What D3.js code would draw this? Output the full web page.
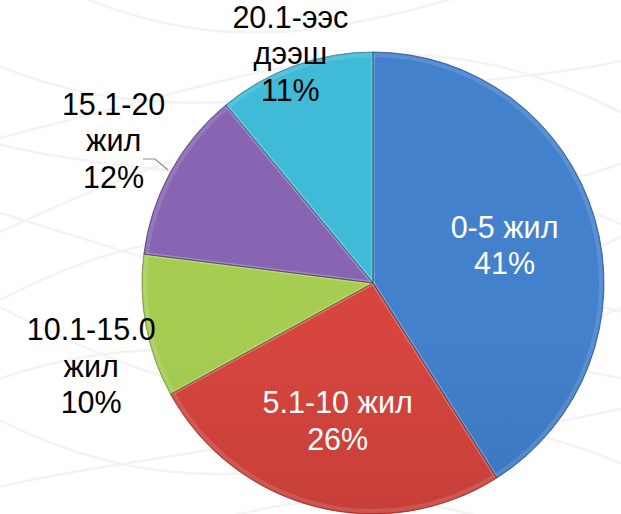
<!DOCTYPE html>
<html>
<head>
<meta charset="utf-8">
<script src="https://cdn.jsdelivr.net/npm/d3@7"></script>
<style>
  body { margin: 0; background: #fff; }
  svg { display: block; }
</style>
</head>
<body>
<div id="chart"></div>
<script>
var categories = ["0-5 жил", "5.1-10 жил", "10.1-15.0 жил", "15.1-20 жил", "20.1-ээс дээш"];
var values = [41, 26, 10, 12, 11];
var labelLines = [["0-5 жил", "41%"], ["5.1-10 жил", "26%"], ["10.1-15.0", "жил", "10%"], ["15.1-20", "жил", "12%"], ["20.1-ээс", "дээш", "11%"]];

var colorsTop = ["#4481CC", "#D6463F", "#A6CD52", "#8765B2", "#3FBBD8"];
var colorsBot = ["#2F64A8", "#AF332F", "#8AAF3D", "#6B4B93", "#2C9AB7"];
// label placement: radius and nudge
var labelRadius = [137, 142, 293, 296, 244];
var labelNudge = [[0, 0], [0, 0], [6, 28], [0, 0], [0, 0]];
var labelColor = ["#fff", "#fff", "#000", "#000", "#000"];

var width = 621,
    height = 514,
    cx = 373,
    cy = 283,
    radius = 231;

var svg = d3.select("#chart")
    .append("svg")
    .attr("width", width)
    .attr("height", height);

var defs = svg.append("defs");

/* faint wavy background */
var bg = svg.append("g").attr("fill", "none").attr("stroke", "#f3f3f3").attr("stroke-width", 2.5);
for (var i = 0; i < 12; i++) {
    var pts = d3.range(0, 641, 20).map(function(x) {
        return [x, 20 + i * 45 + 18 * Math.sin(x / 120 + i * 0.7) + 0.0006 * (x - 320) * (x - 320) * (i % 2 ? 1 : -1)];
    });
    bg.append("path").attr("d", d3.line().curve(d3.curveBasis)(pts));
}

values.forEach(function(v, i) {
    var g = defs.append("linearGradient")
        .attr("id", "grad" + i)
        .attr("gradientUnits", "userSpaceOnUse")
        .attr("x1", 0).attr("y1", cy - radius)
        .attr("x2", 0).attr("y2", cy + radius);
    g.append("stop").attr("offset", "0%").attr("stop-color", colorsTop[i]);
    g.append("stop").attr("offset", "100%").attr("stop-color", colorsBot[i]);
});

var pie = d3.pie().sort(null).value(function(d) { return d; });
var arcs = pie(values);

var arc = d3.arc().innerRadius(0).outerRadius(radius);
var innerArc = d3.arc().innerRadius(0).outerRadius(radius - 3);

var chart = svg.append("g").attr("transform", "translate(" + cx + "," + cy + ")");

/* slices */
chart.selectAll("path.slice")
    .data(arcs)
    .enter().append("path")
    .attr("class", "slice")
    .attr("d", arc)
    .attr("fill", function(d, i) { return "url(#grad" + i + ")"; });

/* bevel highlight */
chart.selectAll("path.bevel")
    .data(arcs)
    .enter().append("path")
    .attr("class", "bevel")
    .attr("d", innerArc)
    .attr("fill", "none")
    .attr("stroke", "#fff")
    .attr("stroke-opacity", 0.12)
    .attr("stroke-width", 4)
    .attr("stroke-linejoin", "round");

/* dark outline */
chart.selectAll("path.edge")
    .data(arcs)
    .enter().append("path")
    .attr("class", "edge")
    .attr("d", arc)
    .attr("fill", "none")
    .attr("stroke", function(d, i) { return d3.color(colorsBot[i]).darker(1); })
    .attr("stroke-opacity", 0.7)
    .attr("stroke-width", 1)
    .attr("stroke-linejoin", "round");

/* leader line for 15.1-20 */
svg.append("path")
    .attr("d", "M143,159H155L168,170")
    .attr("fill", "none")
    .attr("stroke", "#8c8c8c")
    .attr("stroke-width", 1.2);

/* labels */
var fontSize = 30.5, lineH = 36.5;
arcs.forEach(function(d, i) {
    var a = (d.startAngle + d.endAngle) / 2;
    var r = labelRadius[i];
    var x = cx + r * Math.sin(a) + labelNudge[i][0];
    var y = cy - r * Math.cos(a) + labelNudge[i][1];
    var lines = labelLines[i];
    var y0 = y - (lines.length - 1) * lineH / 2 + fontSize * 0.36;
    var t = svg.append("text")
        .attr("text-anchor", "middle")
        .attr("font-family", "Liberation Sans, Arial, sans-serif")
        .attr("font-size", fontSize)
        .attr("fill", labelColor[i]);
    lines.forEach(function(s, j) {
        t.append("tspan").attr("x", x).attr("y", y0 + j * lineH).text(s);
    });
});
</script>
</body>
</html>
